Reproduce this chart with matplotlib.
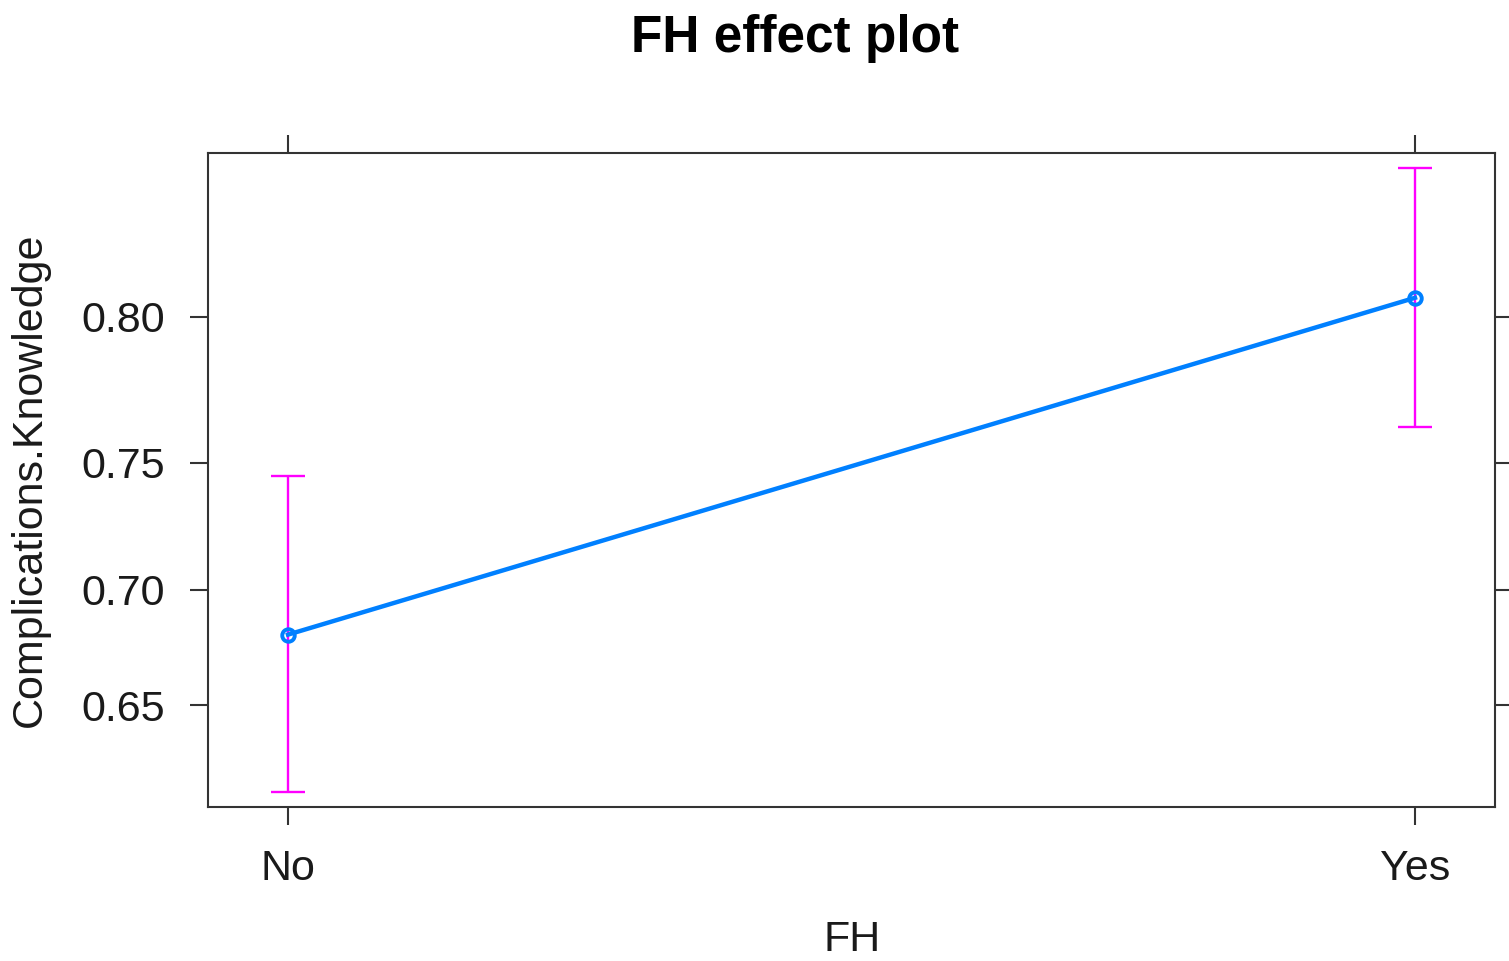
import numpy as np
import matplotlib
matplotlib.use("Agg")
import matplotlib.pyplot as plt

# effect estimates (probability scale) with 95% CI
fh_levels = ["No", "Yes"]
fit = [0.681, 0.806]
lower = [0.610, 0.763]
upper = [0.745, 0.843]
y_ticks = [0.65, 0.70, 0.75, 0.80]

plt.rcParams["font.family"] = ["Liberation Sans", "DejaVu Sans"]
text_col = "#1a1a1a"
frame_col = "#333333"

fig = plt.figure(figsize=(15.09, 9.61), dpi=100)
ax = fig.add_axes([208 / 1509, 1 - 807 / 961, (1495 - 208) / 1509, (807 - 153) / 961])
ax.set_yscale("logit")

x = np.arange(len(fh_levels))
fit_a = np.array(fit)
yerr = [fit_a - np.array(lower), np.array(upper) - fit_a]

ax.errorbar(x, fit, yerr=yerr, fmt="none", ecolor="#ff00ff", elinewidth=1.7,
            capsize=12, capthick=1.7, zorder=2)
ax.plot(x, fit, color="#0080ff", linewidth=3.2, marker="o", markersize=9,
        markerfacecolor="none", markeredgewidth=2.8, zorder=3)

ax.set_xlim(-0.071, 1.071)
ax.set_ylim(0.6029, 0.8469)

ax.set_yticks(y_ticks)
ax.set_yticklabels([f"{v:.2f}" for v in y_ticks])
ax.yaxis.set_minor_locator(matplotlib.ticker.NullLocator())
ax.yaxis.set_minor_formatter(matplotlib.ticker.NullFormatter())
ax.set_xticks(x)
ax.set_xticklabels(fh_levels)

ax.tick_params(axis="both", which="major", direction="out", length=13, width=1.5,
               colors=frame_col, labelcolor=text_col, labelsize=31)
ax.tick_params(axis="y", pad=18, right=True, labelright=False)
ax.tick_params(axis="x", pad=17, top=True, labeltop=False)

for s in ax.spines.values():
    s.set_color(frame_col)
    s.set_linewidth(1.5)

fig.text(795 / 1509, 1 - 52 / 961, "FH effect plot", ha="center", va="baseline",
         fontsize=37, fontweight="bold", color="black")
fig.text(852 / 1509, 1 - 951 / 961, "FH", ha="center", va="baseline",
         fontsize=31, color=text_col)
fig.text(30 / 1509, 1 - 480 / 961, "Complications.Knowledge", rotation=90,
         ha="center", va="center", fontsize=31, color=text_col)

fig.savefig("out.png", dpi=100)
